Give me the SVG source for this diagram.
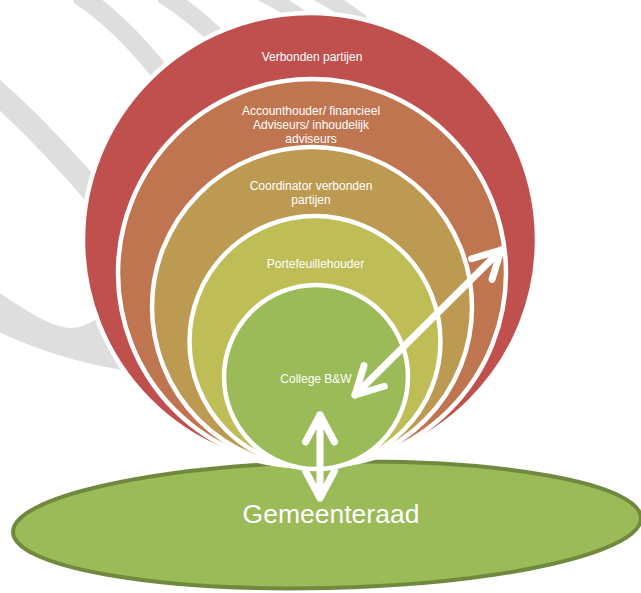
<svg xmlns="http://www.w3.org/2000/svg" width="641" height="593" viewBox="0 0 641 593">
  <defs>
    <style>
      .band { fill: none; stroke: #DEDEDE; stroke-linecap: butt; }
      .ring { stroke: #FFFFFF; stroke-width: 4.5; }
      .lbl { font-family: "Liberation Sans", Arial, sans-serif; font-size: 12px; fill: #FFFFFF; text-anchor: middle; }
      .big { font-family: "Liberation Sans", Arial, sans-serif; font-size: 26.5px; fill: #FFFFFF; text-anchor: middle; }
      .arrow { fill: none; stroke: #FFFFFF; stroke-width: 7; stroke-linecap: round; marker-start: url(#chev); marker-end: url(#chev); }
    </style>
    <marker id="chev" markerUnits="userSpaceOnUse" viewBox="-34 -22 44 44" refX="0" refY="0" markerWidth="44" markerHeight="44" orient="auto-start-reverse">
      <path d="M -27 -14.5 L 0 0 L -27 14.5" fill="none" stroke="#FFFFFF" stroke-width="7" stroke-linecap="round" stroke-linejoin="round"/>
    </marker>
  </defs>

  <g id="background">
    <path class="band" stroke-width="19" d="M 78 -6 Q 125 25 170 85"/>
    <path class="band" stroke-width="18" d="M 162 -6 Q 192 12 225 45"/>
    <path class="band" stroke-width="15" d="M 262 -6 Q 285 5 305 20"/>
    <path class="band" stroke-width="15" d="M 318 -6 Q 340 5 362 22"/>
    <path class="band" stroke-width="23" d="M -8 88 Q 45 135 100 200"/>
    <path d="M -5 290 C 25 310 50 327 70 328 C 85 328 95 320 105 312 L 135 372 C 90 366 40 352 -5 330 Z" fill="#DEDEDE"/>
  </g>

  <g id="gemeenteraad">
    <ellipse cx="327" cy="525" rx="314" ry="63" transform="rotate(-1.3 327 525)" fill="#9BBB59" stroke="#71893F" stroke-width="4"/>
    <text class="big" x="331" y="523">Gemeenteraad</text>
  </g>

  <g id="verbonden-partijen">
    <circle class="ring" cx="310" cy="240" r="227" fill="#C0504D"/>
    <text class="lbl" x="312" y="61">Verbonden partijen</text>
  </g>

  <g id="accounthouder">
    <circle class="ring" cx="312" cy="273" r="194" fill="#BF7550"/>
    <text class="lbl" x="311" y="115">Accounthouder/ financieel</text>
    <text class="lbl" x="311" y="129">Adviseurs/ inhoudelijk</text>
    <text class="lbl" x="311" y="143">adviseurs</text>
  </g>

  <g id="coordinator">
    <circle class="ring" cx="312" cy="307" r="160" fill="#BD9A52"/>
    <text class="lbl" x="311" y="190">Coordinator verbonden</text>
    <text class="lbl" x="311" y="204">partijen</text>
  </g>

  <g id="portefeuillehouder">
    <circle class="ring" cx="315" cy="341.5" r="125.5" fill="#BEBD56"/>
    <text class="lbl" x="315.5" y="268">Portefeuillehouder</text>
  </g>

  <g id="college">
    <circle class="ring" cx="316" cy="377" r="92" fill="#9BBB59"/>
    <text class="lbl" x="316" y="383">College B&amp;W</text>
  </g>

  <g id="connectors">
    <path class="arrow" d="M 355 395 L 501 250"/>
    <path class="arrow" d="M 320 415 L 320 498"/>
  </g>
</svg>
